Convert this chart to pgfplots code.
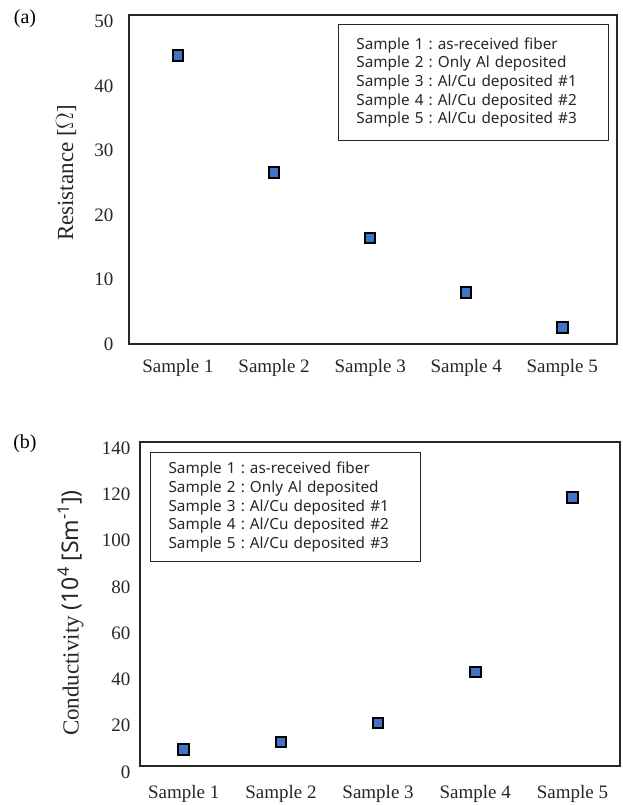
\documentclass[border=0pt]{standalone}
\usepackage{fontspec}
\setmainfont{Liberation Serif}
\newfontfamily\legfont{Noto Sans}
\usepackage{pgfplots}
\pgfplotsset{compat=1.18}
\definecolor{mkblue}{RGB}{68,114,196}
\pgfplotstableread{
x y
1 44.7
2 26.6
3 16.4
4 8.0
5 2.6
}\resdata
\pgfplotstableread{
x y
1 7.2
2 10.4
3 18.5
4 40.7
5 115.9
}\conddata
\pgfplotsset{
  myaxis/.style={
    scale only axis,
    anchor=south west,
    xtick={1,2,3,4,5},
    xticklabels={Sample 1,Sample 2,Sample 3,Sample 4,Sample 5},
    major tick length=0pt,
    axis line style={line width=1.1pt, black!85},
    tick label style={font=\fontsize{19}{19}\selectfont, text=black!85},
    /pgf/number format/assume math mode=true,
    clip=false,
  },
  mymark/.style={only marks, mark=square*, mark size=5.3pt,
    mark options={draw=black, fill=mkblue, line width=2pt}},
}
\tikzset{
  legnode/.style={draw=black!85, line width=1.1pt, align=left,
    text width=234pt, inner xsep=18pt, minimum height=#1,
    font=\legfont\fontsize{15.3}{18.6}\selectfont\frenchspacing, text=black!85},
}
\begin{document}
\begin{tikzpicture}[x=1pt,y=1pt]
\useasboundingbox (0,0) rectangle (623,805);
\node[font=\fontsize{20}{20}\selectfont] at (25,786) {(a)};
\node[font=\fontsize{20}{20}\selectfont] at (25,361) {(b)};
\begin{axis}[myaxis,
  at={(129pt,461pt)}, width=488pt, height=329pt,
  xmin=0.49, xmax=5.57, ymin=0, ymax=51,
  ytick={0,10,20,30,40,50},
  yticklabel style={xshift=-12pt},
  xticklabel style={yshift=-12pt},
  ylabel={Resistance [$\Omega$]},
  ylabel style={at={(axis description cs:-0.129,0.52)}, anchor=center, font=\fontsize{23}{23}\selectfont, text=black!85},
]
\addplot[mymark] table[x=x,y=y] {\resdata};
\node[legnode=116pt, anchor=north east] at ([xshift=-8pt,yshift=-9pt]rel axis cs:1,1)
{Sample 1 : as-received fiber\\Sample 2 : Only Al deposited\\Sample 3 : Al/Cu deposited \#1\\Sample 4 : Al/Cu deposited \#2\\Sample 5 : Al/Cu deposited \#3};
\end{axis}
\begin{axis}[myaxis,
  at={(140pt,39pt)}, width=480pt, height=324pt,
  xmin=0.55, xmax=5.49, ymin=0, ymax=140,
  ytick={0,20,40,60,80,100,120,140},
  yticklabel style={xshift=-6pt, yshift=-6pt},
  xticklabel style={yshift=-16pt},
  ylabel={Conductivity {\legfont (10\textsuperscript{4} [Sm\textsuperscript{-1}])}},
  ylabel style={at={(axis description cs:-0.144,0.472)}, anchor=center, font=\fontsize{23}{23}\selectfont, text=black!85},
]
\addplot[mymark] table[x=x,y=y] {\conddata};
\node[legnode=109pt, anchor=north west] at ([xshift=10pt,yshift=-10pt]rel axis cs:0,1)
{Sample 1 : as-received fiber\\Sample 2 : Only Al deposited\\Sample 3 : Al/Cu deposited \#1\\Sample 4 : Al/Cu deposited \#2\\Sample 5 : Al/Cu deposited \#3};
\end{axis}
\end{tikzpicture}
\end{document}
